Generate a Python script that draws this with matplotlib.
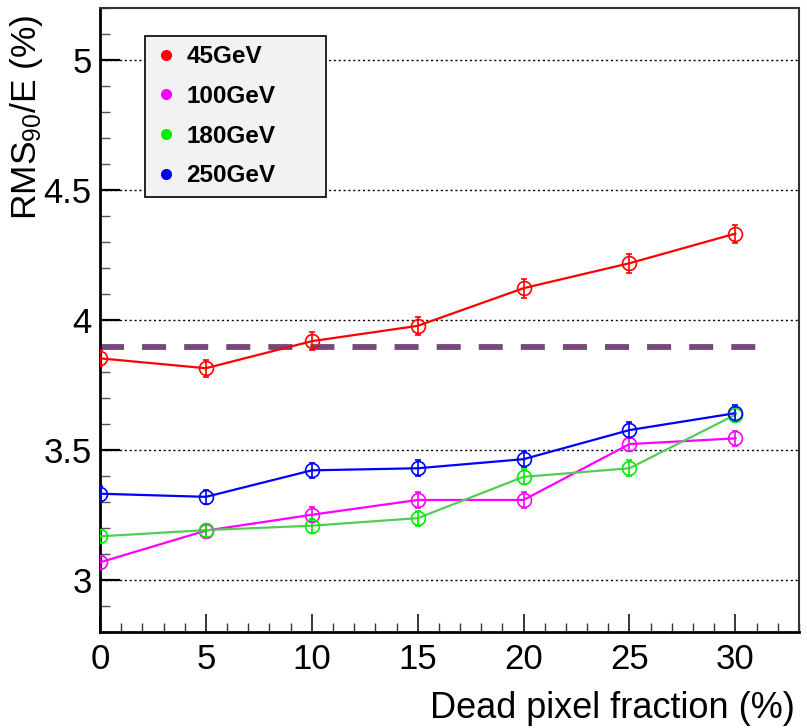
import matplotlib
matplotlib.use("Agg")
import matplotlib.pyplot as plt
from matplotlib.lines import Line2D

plt.rcParams['font.family'] = ['Liberation Sans', 'DejaVu Sans']
plt.rcParams['mathtext.default'] = 'regular'
plt.rcParams['lines.scale_dashes'] = False

# dead pixel fraction (%)
fraction = [0, 5, 10, 15, 20, 25, 30]

labels = ["45GeV", "100GeV", "180GeV", "250GeV"]

# RMS90/E (%) per energy
res_45 = [3.853, 3.815, 3.919, 3.978, 4.123, 4.219, 4.333]
err_45 = [0.031, 0.033, 0.034, 0.034, 0.036, 0.036, 0.035]
res_100 = [3.068, 3.190, 3.251, 3.308, 3.308, 3.523, 3.545]
err_100 = [0.025, 0.027, 0.029, 0.030, 0.030, 0.028, 0.030]
res_180 = [3.168, 3.192, 3.209, 3.238, 3.397, 3.430, 3.636]
err_180 = [0.025, 0.025, 0.027, 0.029, 0.029, 0.030, 0.029]
res_250 = [3.332, 3.320, 3.422, 3.430, 3.465, 3.577, 3.642]
err_250 = [0.028, 0.028, 0.029, 0.030, 0.030, 0.030, 0.031]

# reference level (dashed)
ref_level = 3.895
ref_range = [0, 31]

marker_colors = ["#ff0000", "#ff00ff", "#00ee00", "#0000ff"]
line_colors = ["#ff0000", "#ff00ff", "#55cc55", "#0000ff"]

fig = plt.figure(figsize=(8.07, 7.28), dpi=100)
ax = fig.add_axes([0.1239, 0.1319, 0.8661, 0.8567])

series = [(res_45, err_45), (res_100, err_100), (res_180, err_180), (res_250, err_250)]
for (vals, errs), mc, lc in zip(series, marker_colors, line_colors):
    ax.plot(fraction, vals, color=lc, lw=1.6, zorder=3)
    ax.errorbar(fraction, vals, yerr=errs, fmt='o', mfc='none', mec=mc, ms=10,
                mew=1.2, ecolor=mc, elinewidth=1.2, capsize=2.5, capthick=2.5, zorder=4)

ax.plot(ref_range, [ref_level, ref_level], color='#754a7a', lw=4.2,
        dashes=(17.3, 13), zorder=2)

ax.set_xlim(0, 33)
ax.set_ylim(2.8, 5.2)
ax.set_xticks([0, 5, 10, 15, 20, 25, 30])
ax.set_xticks(range(0, 34), minor=True)
ax.set_yticks([3, 3.5, 4, 4.5, 5])
ax.set_yticklabels(["3", "3.5", "4", "4.5", "5"])
ax.set_yticks([2.8 + 0.1 * i for i in range(25)], minor=True)
ax.tick_params(which='both', direction='in', top=False, right=False, labelsize=25)
ax.tick_params(axis='x', which='major', length=13, width=1.1, pad=8)
ax.tick_params(axis='x', which='minor', length=6.5, width=1.0, color='#333333')
ax.tick_params(axis='y', which='major', length=14.4, width=1.6, pad=6)
ax.tick_params(axis='y', which='minor', length=7.2, width=1.0, color='#555555')
ax.yaxis.grid(True, which='major', color='black', lw=1.0, linestyle=(0, (1.5, 2.0)))
for side in ['left', 'bottom']:
    ax.spines[side].set_linewidth(2.0)
for side in ['top', 'right']:
    ax.spines[side].set_linewidth(1.5)
    ax.spines[side].set_color('#333333')

ax.set_xlabel("Dead pixel fraction (%)", fontsize=26, loc='right')
ax.xaxis.set_label_coords(0.994, -0.094)
ax.set_ylabel("RMS$_{90}$/E (%)", fontsize=25.5, loc='top')
ax.yaxis.set_label_coords(-0.079, 0.99)

handles = [Line2D([], [], marker='o', color=c, ls='none', ms=7) for c in marker_colors]
leg = ax.legend(handles, labels, loc='upper left',
                bbox_to_anchor=(0.0644, 0.956, 0.259, 0.0), mode='expand',
                frameon=True, fancybox=False, edgecolor='black', facecolor='#f2f2f2',
                framealpha=1, prop={'weight': 'bold', 'size': 17.5}, handlelength=0.9,
                handletextpad=0.4, labelspacing=0.68, borderpad=0.4, borderaxespad=0)
leg.get_frame().set_linewidth(1.2)
leg.set_zorder(5)

fig.savefig("out.png", dpi=100)
